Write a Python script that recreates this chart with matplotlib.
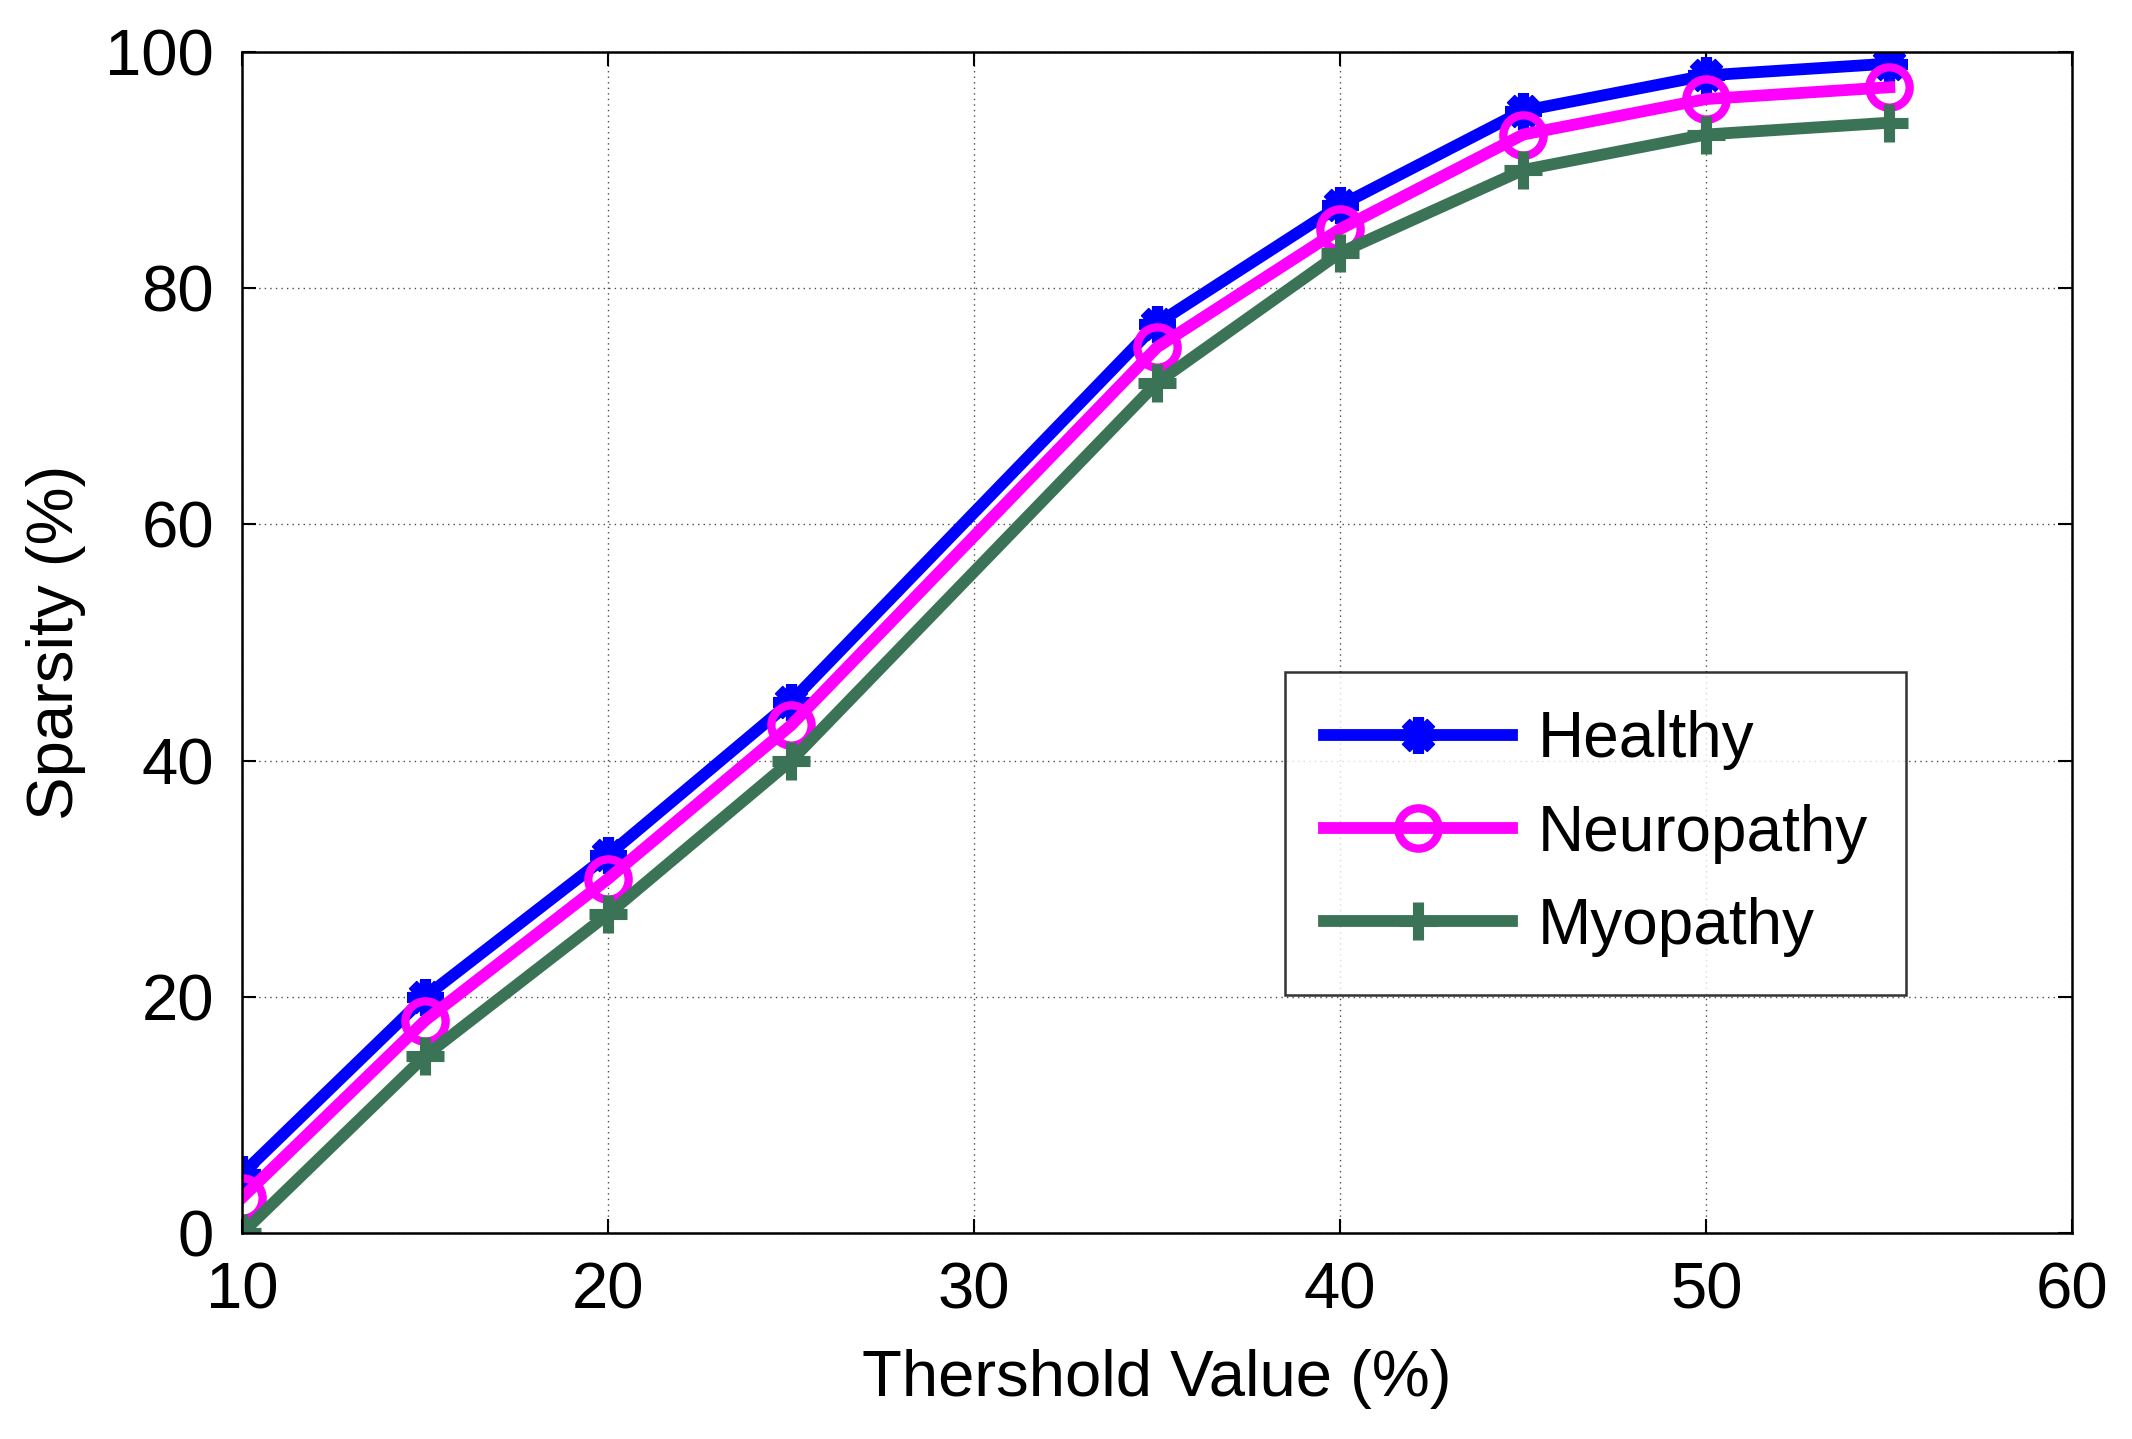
import matplotlib
matplotlib.use("Agg")
import matplotlib.pyplot as plt

thresholds = [10, 15, 20, 25, 35, 40, 45, 50, 55]
healthy = [5, 20, 32, 45, 77, 87, 95, 98, 99]
neuropathy = [3, 18, 30, 43, 75, 85, 93, 96, 97]
myopathy = [0, 15, 27, 40, 72, 83, 90, 93, 94]
series_names = ["Healthy", "Neuropathy", "Myopathy"]
xticks = [10, 20, 30, 40, 50, 60]
yticks = [0, 20, 40, 60, 80, 100]

plt.rcParams['font.family'] = ['Liberation Sans', 'DejaVu Sans']

fig = plt.figure(figsize=(21.32, 14.39), dpi=100)
ax = fig.add_axes([0.1135, 0.143, 0.8585, 0.821])

lw = 8.5
ax.plot(thresholds, healthy, color='#0000FF', lw=lw, marker=(8, 2, 0), ms=26,
        mew=8, label=series_names[0])
ax.plot(thresholds, neuropathy, color='#FF00FF', lw=lw, marker='o', ms=29,
        mfc='none', mew=6, label=series_names[1])
ax.plot(thresholds, myopathy, color='#3B7356', lw=lw, marker='+', ms=28,
        mew=8, label=series_names[2])

ax.set_xlim(10, 60)
ax.set_ylim(0, 100)
ax.set_xticks(xticks)
ax.set_yticks(yticks)
ax.grid(True, linestyle=(0, (1, 3)), color='black', linewidth=1.0, alpha=0.7)
ax.tick_params(direction='in', length=10, width=1.5, top=True, right=True,
               labelsize=47, pad=20)
for s in ax.spines.values():
    s.set_linewidth(1.8)
ax.set_xlabel("Thershold Value (%)", fontsize=47, labelpad=20)
ax.set_ylabel("Sparsity (%)", fontsize=47, labelpad=14)

leg = ax.legend(loc='upper left', bbox_to_anchor=(0.57, 0.475), fontsize=46,
                frameon=True, fancybox=False, edgecolor='black',
                handlelength=2.95, handletextpad=0.4, borderpad=0.6,
                labelspacing=0.52, borderaxespad=0)
leg.get_frame().set_linewidth(1.8)

fig.savefig("out.png", dpi=100)
